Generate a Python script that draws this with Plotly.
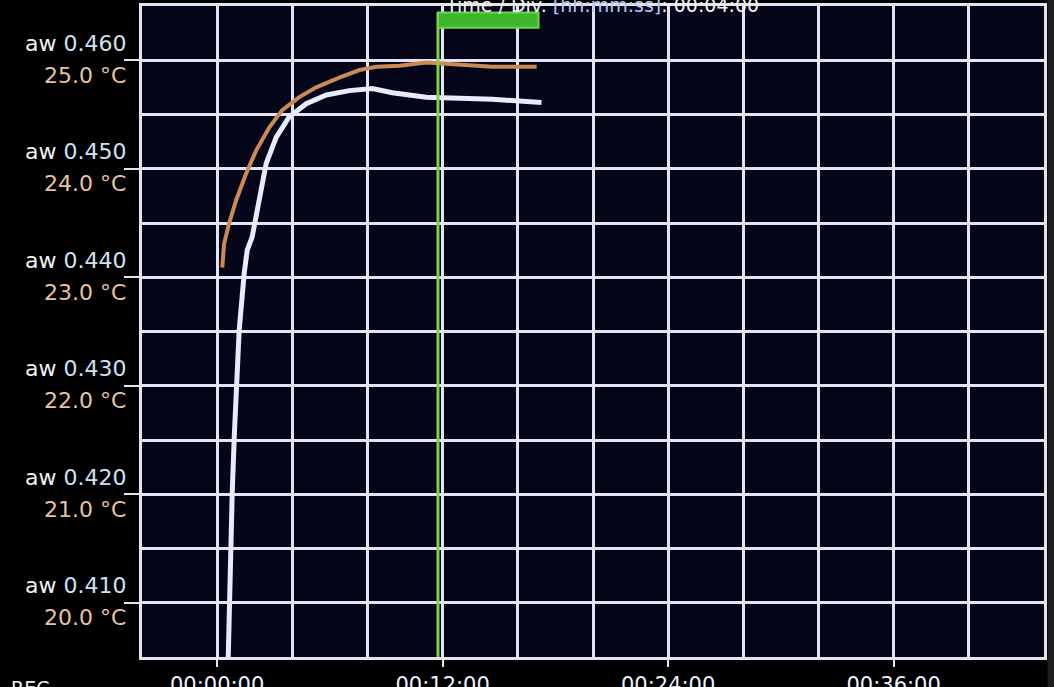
import plotly.graph_objects as go

# ---- data ----
# time in minutes, water activity (aw)
aw_time = [0.59, 0.64, 0.75, 0.80, 0.91, 1.07, 1.17, 1.44, 1.60, 1.86, 2.24, 2.61,
           3.14, 3.84, 4.74, 5.81, 7.03, 8.26, 9.32, 11.13, 12.89, 14.65, 17.26]
aw_values = [0.4050, 0.4100, 0.4149, 0.4201, 0.4253, 0.4303, 0.4351, 0.4404, 0.4425,
             0.4437, 0.4474, 0.4505, 0.4529, 0.4548, 0.4560, 0.4568, 0.4572, 0.4574,
             0.4570, 0.4566, 0.4565, 0.4564, 0.4561]

# time in minutes, temperature (°C)
temp_time = [0.27, 0.37, 0.64, 1.01, 1.55, 2.08, 2.77, 3.46, 4.37, 5.27, 6.50, 7.57,
             8.47, 9.70, 11.13, 12.89, 14.65, 17.0]
temp_values = [23.09, 23.31, 23.50, 23.71, 23.96, 24.17, 24.38, 24.54, 24.66, 24.75,
               24.84, 24.91, 24.94, 24.95, 24.98, 24.96, 24.94, 24.94]

aw_ticks = [0.460, 0.450, 0.440, 0.430, 0.420, 0.410]
temp_ticks = [25.0, 24.0, 23.0, 22.0, 21.0, 20.0]
x_ticks = [0, 12, 24, 36]
x_labels = ["00:00:00", "00:12:00", "00:24:00", "00:36:00"]
cursor_start = 11.75
cursor_end = 17.1
title_text = "Time / Div. <span style='color:#b8c8f0'>[hh:mm:ss]</span>: 00:04:00"

# temperature mapped onto the aw axis (25.0 °C <-> 0.460, 20.0 °C <-> 0.410)
def temp_to_aw(t):
    return 0.410 + (t - 20.0) / 100.0

temp_on_aw = [temp_to_aw(t) for t in temp_values]

grid_col = "#e4e4ee"
FONT = "DejaVu Sans, Liberation Sans, Arial"

fig = go.Figure()
fig.add_trace(go.Scatter(x=aw_time, y=aw_values, mode="lines",
                         line=dict(color="#e6ecff", width=5), hoverinfo="skip"))
fig.add_trace(go.Scatter(x=temp_time, y=temp_on_aw, mode="lines",
                         line=dict(color="#c98a55", width=4), hoverinfo="skip"))

# cursor line and marker box
fig.add_shape(type="line", x0=cursor_start, x1=cursor_start, y0=0.405, y1=0.4644,
              xref="x", yref="y", line=dict(color="#7ad44a", width=3))
fig.add_shape(type="rect", x0=cursor_start, x1=cursor_end, y0=0.4630, y1=0.4644,
              xref="x", yref="y", line=dict(color="#6ad84a", width=2),
              fillcolor="#3fb52e")

# dark strip at the right of the photo
fig.add_shape(type="rect", x0=1.004, x1=1.02, y0=-0.1, y1=1.1, xref="paper",
              yref="paper", line=dict(width=0), fillcolor="#1e1e1e", layer="above")

annotations = []
for a, t in zip(aw_ticks, temp_ticks):
    annotations.append(dict(x=0, xref="paper", y=a, yref="y", xanchor="right",
                            yanchor="middle", xshift=-14, yshift=17, showarrow=False,
                            text=f"aw <span style='color:#cfe0f5'>{a:.3f}</span>",
                            font=dict(family=FONT, size=22, color="#f0f0f0")))
    annotations.append(dict(x=0, xref="paper", y=a, yref="y", xanchor="right",
                            yanchor="middle", xshift=-14, yshift=-15, showarrow=False,
                            text=f"{t:.1f} °C",
                            font=dict(family=FONT, size=22, color="#e8c2a0")))
annotations.append(dict(x=0.5, xref="paper", y=1, yref="paper", xanchor="center",
                        yanchor="middle", yshift=1, xshift=9, showarrow=False,
                        text=title_text,
                        font=dict(family=FONT, size=19, color="#f0f0f0")))
annotations.append(dict(x=-142 / 902 + 0.01, xref="paper", y=0, yref="paper",
                        xanchor="left", yanchor="top", yshift=-18, showarrow=False,
                        text="REC",
                        font=dict(family=FONT, size=19, color="#f0f0f0")))

fig.update_layout(
    width=1054, height=687,
    margin=dict(l=142, r=10, t=6, b=30, autoexpand=False),
    paper_bgcolor="#000000",
    plot_bgcolor="#06061a",
    showlegend=False,
    annotations=annotations,
    xaxis=dict(range=[-4, 44], tickvals=x_ticks, ticktext=x_labels,
               ticks="outside", ticklen=7, tickwidth=2, tickcolor=grid_col,
               showgrid=True, gridcolor=grid_col, gridwidth=3,
               minor=dict(dtick=4, tick0=0, showgrid=True, gridcolor=grid_col,
                          gridwidth=3),
               showline=True, linecolor=grid_col, linewidth=3, mirror=True,
               zeroline=False, automargin=False,
               tickfont=dict(family=FONT, size=21, color="#eef2ff")),
    yaxis=dict(range=[0.405, 0.465], tickvals=aw_ticks, showticklabels=False,
               ticks="outside", ticklen=15, tickwidth=2, tickcolor=grid_col,
               showgrid=True, gridcolor=grid_col, gridwidth=3,
               minor=dict(dtick=0.005, tick0=0.405, showgrid=True,
                          gridcolor=grid_col, gridwidth=3),
               showline=True, linecolor=grid_col, linewidth=3, mirror=True,
               zeroline=False, automargin=False),
)

fig.write_html("out.html", config={"displayModeBar": False},
               post_script="document.body.style.margin='0';document.body.style.background='#000';")
